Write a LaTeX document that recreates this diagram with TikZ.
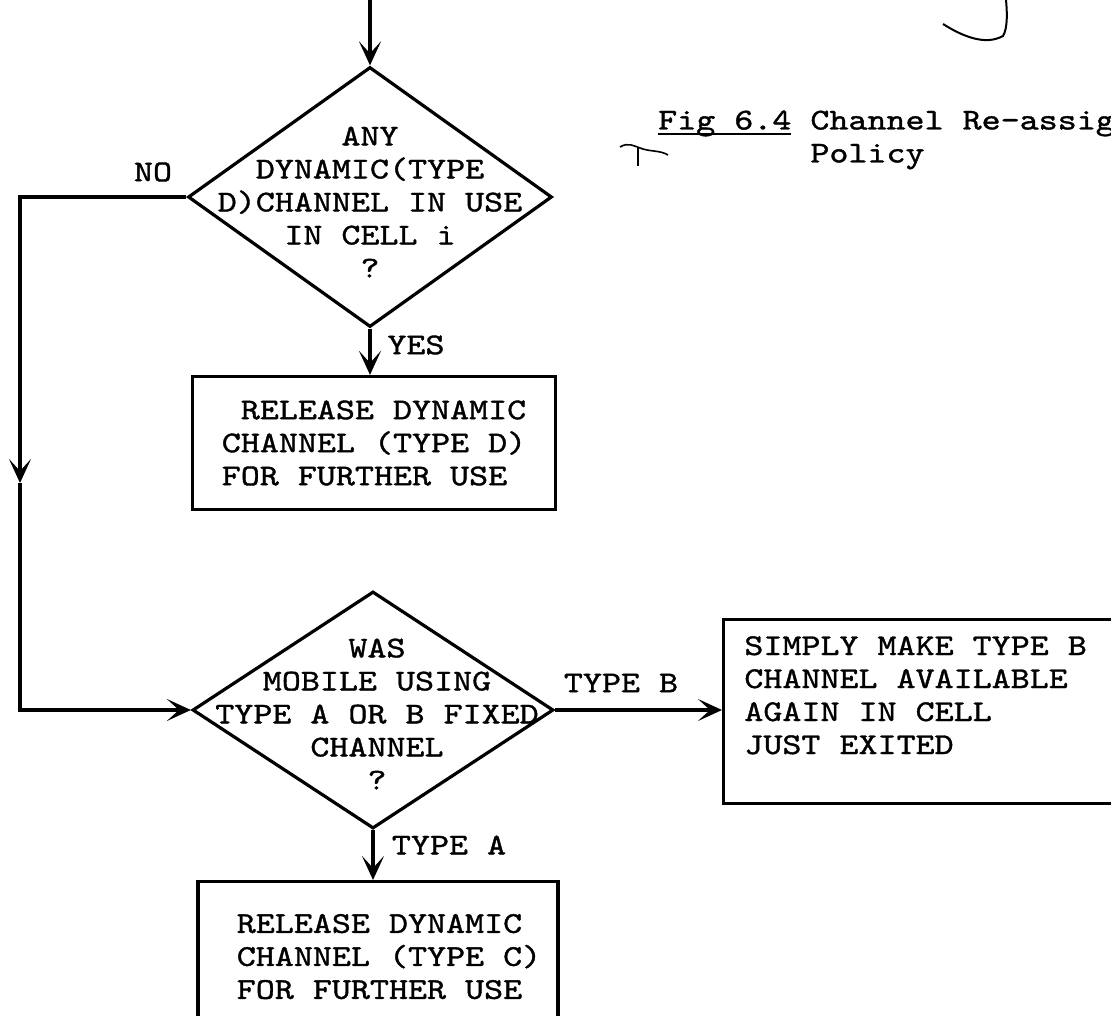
\documentclass[tikz,border=0pt]{standalone}
\usepackage{fontspec}
\usepackage{tikz}
\usetikzlibrary{shapes.geometric, arrows.meta, positioning}
\newfontfamily\typer[FakeStretch=1.2, FakeBold=1.2, WordSpace={1,0,0}]{lmmono10-regular.otf}
\newcommand\capline[1]{\setbox0\hbox{#1}\rlap{\rule[-6pt]{\wd0}{2.8pt}}#1}

\tikzset{
  flowline/.style={line width=3.2pt},
  flowtip/.style={-{Stealth[length=24pt, width=22pt, inset=12pt]}},
  decision/.style={draw, flowline, diamond, inner sep=0pt},
  process/.style={draw, flowline, rectangle, inner sep=0pt, align=left},
  flowlabel/.style={inner sep=0pt},
}

\begin{document}
\begin{tikzpicture}[x=1pt, y=-1pt, font=\typer\fontsize{30.2}{33}\selectfont]
  \useasboundingbox (0,0) rectangle (1111,1016);
  \clip (0,0) rectangle (1111,1016);

  % decisions
  \node[decision, minimum width=364pt, minimum height=260pt] (anyd) at (370,197) {};
  \node[align=center, inner sep=0pt] (anydtext) at (370,202) {ANY\\DYNAMIC(TYPE\\D)CHANNEL IN USE\\IN CELL i\\?};
  \node[decision, minimum width=361pt, minimum height=237pt] (wasd) at (373,710) {};
  \node[align=center, inner sep=0pt] (wasdtext) at (377,714) {WAS\\MOBILE USING\\TYPE A OR B FIXED\\CHANNEL\\?};

  % actions
  \node[process, minimum width=363pt, minimum height=133pt] (reld) at (374,443) {\ RELEASE DYNAMIC\\CHANNEL (TYPE D)\\FOR FURTHER USE};
  \node[process, anchor=north west, minimum width=420pt, minimum height=184pt] (simply) at (722,618) {SIMPLY MAKE TYPE B\hspace*{36pt}\\CHANNEL AVAILABLE\\AGAIN IN CELL\\JUST EXITED\\\mbox{}};
  \node[process, anchor=north, minimum width=360pt, minimum height=150pt] (relc) at (378,880) {\hspace*{22pt}RELEASE DYNAMIC\\\hspace*{22pt}CHANNEL (TYPE C)\\\hspace*{22pt}FOR FURTHER USE};

  % connectors
  \coordinate (entry) at (370,0);
  \coordinate (loopdown) at (20,483);
  \draw[flowline, flowtip] (entry) -- (anyd.north);
  \draw[flowline, flowtip] (anyd.south) -- (anyd.south |- reld.north);
  \draw[flowline, flowtip] (anyd.west) -| (loopdown);
  \draw[flowline, flowtip] (loopdown) |- (wasd.west);
  \draw[flowline, flowtip] (wasd.east) -- (wasd.east -| simply.west);
  \draw[flowline, flowtip] (wasd.south) -- (wasd.south |- relc.north);

  % labels
  \node[flowlabel] (nolabel) at (153,172) {NO};
  \node[flowlabel] (yeslabel) at (416,345) {YES};
  \node[flowlabel] (typeblabel) at (621,683) {TYPE B};
  \node[flowlabel] (typealabel) at (449,845) {TYPE A};

  % caption
  \node[anchor=west, align=left, inner sep=0pt] (caption) at (658,140) {\capline{Fig 6.4} Channel Re-assig\\\phantom{Fig 6.4 }Policy};

  % pen marks
  \draw[line width=2pt] (943,24) .. controls (962,36) and (985,46) .. (1003,36) .. controls (1008,28) and (1007,10) .. (1006,0);
  \draw[line width=1.6pt] (620,147) .. controls (628,142) and (634,146) .. (640,148) .. controls (650,152) and (660,150) .. (668,155);
  \draw[line width=1.6pt] (638,147) -- (638,166);
\end{tikzpicture}
\end{document}
